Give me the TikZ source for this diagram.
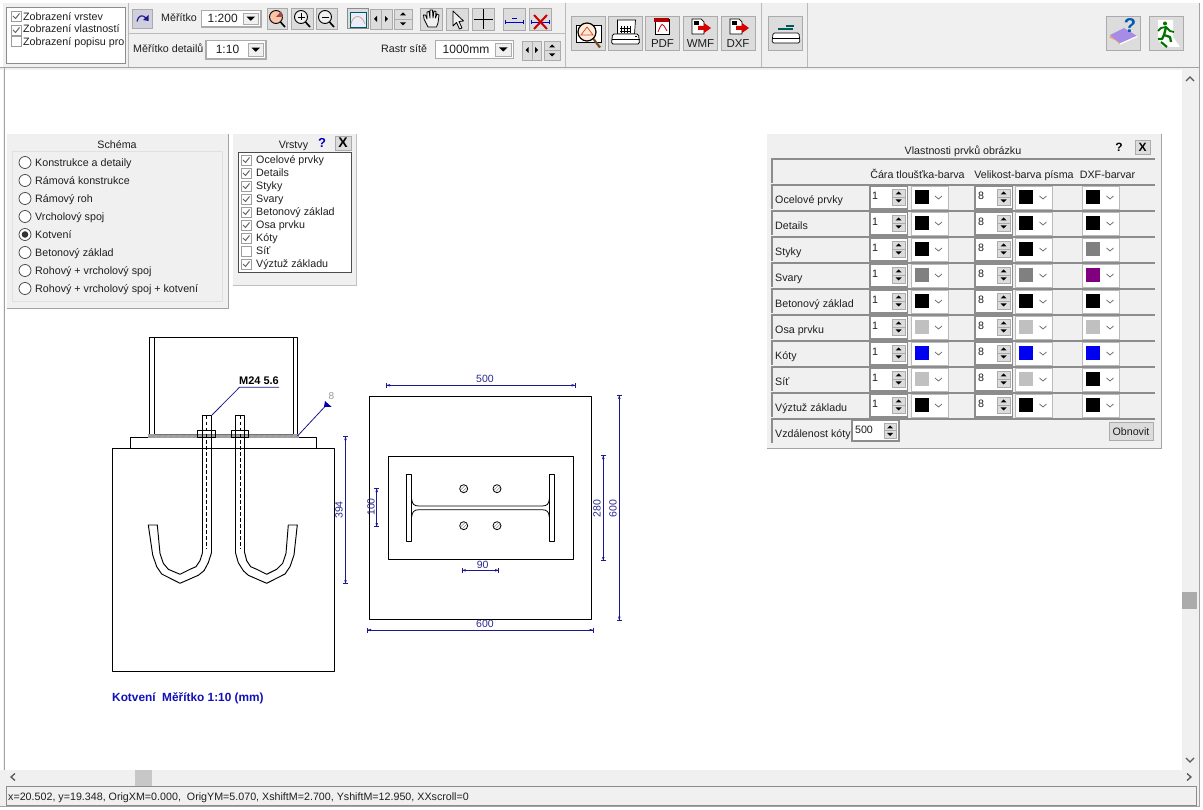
\documentclass[tikz,border=0pt]{standalone}
\usepackage{fontspec}
\setmainfont{Liberation Sans}
\usetikzlibrary{calc}
\definecolor{winbg}{HTML}{F0F0F0}
\definecolor{btnbg}{HTML}{DCDCDC}
\definecolor{btnln}{HTML}{ABABAB}
\definecolor{frameln}{HTML}{8C8C8C}
\definecolor{txt}{HTML}{1E1E1E}
\definecolor{navy}{HTML}{1A1A8C}
\definecolor{dimtxt}{HTML}{2A2A90}
\definecolor{capblue}{HTML}{1010B8}
\definecolor{silver}{HTML}{C0C0C0}
\definecolor{midgray}{HTML}{808080}
\definecolor{purp}{HTML}{800080}
\definecolor{pureblue}{HTML}{0000F0}
\tikzset{
  lbl/.style={anchor=base west,yshift=-4pt,inner sep=0pt,text=txt,font=\fontsize{10.7}{12}\selectfont},
  ctr/.style={anchor=base,yshift=-4pt,inner sep=0pt,text=txt,font=\fontsize{10.7}{12}\selectfont},
  dimt/.style={anchor=center,inner sep=0pt,text=dimtxt,font=\fontsize{10.5}{12}\selectfont},
  dim/.style={draw=navy,line width=0.9pt},
  obj/.style={draw=black,line width=0.95pt,line join=round},
  btn/.style={draw=btnln,fill=btnbg,line width=0.8pt},
  panel/.style={draw=none,fill=winbg},
}
\newcommand{\Lbl}[3]{\node[lbl] at (#1,#2) {#3};}
\newcommand{\Btn}[4]{\draw[btn] (#1,#2) rectangle (#3,#4);}
\newcommand{\ChkBox}[2]{\draw[draw=frameln!85,fill=white,line width=0.7pt] (#1,#2) rectangle ++(10,10);}
\newcommand{\Chk}[2]{\ChkBox{#1}{#2}\draw[draw=txt!70,line width=1pt] (#1+2,#2+5) -- (#1+4.5,#2+7.5) -- (#1+8.5,#2+2.5);}
\newcommand{\Radio}[3]{\draw[draw=black!75,fill=white,line width=0.7pt] (#1,#2) circle (6);\Lbl{#1+10}{#2+0.5}{#3}}
\newcommand{\Combo}[5]{\draw[draw=btnln,fill=white,line width=1.2pt] (#1,#2) rectangle (#3,#4);
  \draw[draw=btnln,fill=winbg,line width=0.8pt] (#3-18,#2+2.5) rectangle (#3-2.5,#4-2.5);
  \fill[black] (#3-14.5,{(#2+#4)/2-2}) -- (#3-6,{(#2+#4)/2-2}) -- (#3-10.25,{(#2+#4)/2+2}) -- cycle;
  \node[ctr,font=\fontsize{12}{12}\selectfont] at ({(#1+#3-17)/2},{(#2+#4)/2}) {#5};}
\newcommand{\TriUp}[2]{\fill[black] (#1-3,#2+1.5) -- (#1+3,#2+1.5) -- (#1,#2-1.5) -- cycle;}
\newcommand{\TriDn}[2]{\fill[black] (#1-3,#2-1.5) -- (#1+3,#2-1.5) -- (#1,#2+1.5) -- cycle;}
\newcommand{\TriL}[2]{\fill[black] (#1+1.5,#2-3) -- (#1+1.5,#2+3) -- (#1-1.5,#2) -- cycle;}
\newcommand{\TriR}[2]{\fill[black] (#1-1.5,#2-3) -- (#1-1.5,#2+3) -- (#1+1.5,#2) -- cycle;}
% spinner in property table
\newcommand{\Spin}[2]{\draw[draw=frameln,fill=white,line width=1.1pt] (#1,#2+1) rectangle (#1+37.5,#2+24);
  \draw[btn] (#1+22,#2+4) rectangle (#1+35,#2+12);\draw[btn] (#1+22,#2+12) rectangle (#1+35,#2+20);
  \TriUp{#1+28.5}{#2+8}\TriDn{#1+28.5}{#2+16}}
\newcommand{\Swatch}[3]{\draw[draw=frameln!60,fill=white,line width=0.9pt] (#1,#2+1) rectangle (#1+37,#2+24);
  \fill[#3] (#1+3.5,#2+5) rectangle (#1+17.5,#2+19.5);
  \draw[draw=black!60,line width=0.7pt] (#1+24,#2+11) -- (#1+27.5,#2+14) -- (#1+31,#2+11);}
\newcommand{\HDim}[3]{\draw[dim] (#1,#3) -- (#2,#3);\draw[dim] (#1+0.5,#3-2.5) -- (#1+0.5,#3+2.5);\draw[dim] (#2-0.5,#3-2.5) -- (#2-0.5,#3+2.5);
  \fill[navy] (#1,#3) -- (#1+4,#3-1.2) -- (#1+4,#3+1.2) -- cycle;\fill[navy] (#2,#3) -- (#2-4,#3-1.2) -- (#2-4,#3+1.2) -- cycle;}
\newcommand{\VDim}[3]{\draw[dim] (#3,#1) -- (#3,#2);\draw[dim] (#3-2.5,#1+0.5) -- (#3+2.5,#1+0.5);\draw[dim] (#3-2.5,#2-0.5) -- (#3+2.5,#2-0.5);
  \fill[navy] (#3,#1) -- (#3-1.2,#1+4) -- (#3+1.2,#1+4) -- cycle;\fill[navy] (#3,#2) -- (#3-1.2,#2-4) -- (#3+1.2,#2-4) -- cycle;}
\newcommand{\Printer}[2]{% x,y of button top-left
  \draw[draw=black,fill=white,line width=0.7pt] (#1+9,#2+4) -- (#1+27,#2+4) -- (#1+26,#2+18) -- (#1+9,#2+18) -- cycle;
  \draw[draw=black,fill=white,line width=0.8pt,rounded corners=1.5pt] (#1+4,#2+18) -- (#1+30,#2+18) -- (#1+31,#2+28) -- (#1+3,#2+28) -- cycle;
  \draw[draw=black,line width=0.7pt] (#1+3,#2+23) -- (#1+31,#2+23);
  \fill[black] (#1+26,#2+20) rectangle ++(2,1);}
\begin{document}
\begin{tikzpicture}[x=1pt,y=-1pt]
\useasboundingbox (0,0) rectangle (1203,810);
\clip (0,0) rectangle (1203,810);
% window
\fill[winbg] (0,0) rectangle (1203,810);
\fill[white] (5,70) rectangle (1182,770);
\fill[white] (0,70) rectangle (3,770);
\fill[white] (1200,0) rectangle (1203,810);
\fill[white] (0,806) rectangle (1203,810);
\fill[white] (0,0) rectangle (1203,3);
\fill[white] (0,3) rectangle (3,68);
% borders
\draw[draw=frameln!80,line width=1pt] (0,67.5) -- (1199,67.5);
\draw[draw=frameln!80,line width=1pt] (4,68) -- (4,770);
\draw[draw=frameln!80,line width=1pt] (1199,3) -- (1199,806) -- (0,806);
\draw[draw=frameln!60,line width=1pt] (128.5,3) -- (128.5,67);
\draw[draw=frameln!60,line width=1pt] (128.5,34) -- (565.5,34);
\draw[draw=frameln!60,line width=1pt] (565.5,3) -- (565.5,67);
\draw[draw=frameln!60,line width=1pt] (761.5,3) -- (761.5,67);
\draw[draw=frameln!60,line width=1pt] (807.5,3) -- (807.5,67);
% view options
\draw[draw=frameln,fill=white,line width=1pt] (6.5,7.5) rectangle (125,64);
\Chk{11}{11}\Lbl{23}{16.5}{Zobrazení vrstev}
\Chk{11}{25}\Lbl{23}{29}{Zobrazení vlastností}
\ChkBox{11}{36}\Lbl{23}{42}{Zobrazení popisu pro}
% toolbar row 1
\draw[draw=btnln,fill=blue!6!btnbg,line width=0.8pt] (132,9) rectangle (152,28);
\draw[draw=navy,line width=1.2pt] (137,21.5) .. controls (138,15) and (143,14.5) .. (146,18);
\fill[navy] (148.5,21) -- (143,20) -- (148.5,15) -- cycle;
\Lbl{161}{18}{Měřítko}
\Combo{201.5}{10.5}{261}{27}{1:200}
\Btn{267}{8}{287}{29}
\draw[draw=black,fill=red!35!orange!35,line width=0.9pt] (276,17) circle (6.5);
\fill[red!45!black!70] (276,17) -- (281,11.5) -- (283,17) -- cycle;
\draw[draw=black,line width=1.6pt] (280.5,22) -- (285,27);
\Btn{291}{8}{313}{29}
\draw[draw=black,fill=winbg,line width=0.9pt] (301,17) circle (6.5);
\draw[black,line width=0.8pt] (297.5,17) -- (304.5,17) (301,13.5) -- (301,20.5);
\draw[draw=black,line width=1.6pt] (305.5,22) -- (310,27);
\Btn{316}{8}{337}{29}
\draw[draw=black,fill=winbg,line width=0.9pt] (325,17) circle (6.5);
\draw[black,line width=0.8pt] (321.5,17) -- (328.5,17);
\draw[draw=black,line width=1.6pt] (329.5,22) -- (334,27);
\draw[draw=frameln,fill=btnbg,line width=1pt] (347,9) rectangle (368,29);
\draw[draw=teal!70!black,fill=blue!8,line width=0.8pt] (350,12) rectangle (366,27);
\draw[draw=brown!70,line width=0.8pt] (351,24) .. controls (353,14) and (362,14) .. (365,24);
\Btn{370}{9}{381}{29}\Btn{381}{9}{392}{29}\TriL{375.5}{19}\TriR{386.5}{19}
\Btn{394}{9}{412}{19}\Btn{394}{19}{412}{29}\TriUp{403}{14}\TriDn{403}{24}
\Btn{420}{8}{442}{30}
\draw[draw=black,fill=winbg,line width=0.8pt,line join=round] (428,27) -- (424,19) -- (423.5,15) -- (425.5,15) -- (427,19) -- (427,12) -- (429,11.5) -- (430,18) -- (430,10) -- (432.5,10) -- (433,18) -- (434,11) -- (436,11.5) -- (435.5,18) -- (437,14) -- (439,15) -- (438,23) -- (436.5,27) -- cycle;
\Btn{446}{8}{468}{30}
\draw[draw=black,fill=winbg,line width=0.8pt,line join=round] (453,11) -- (453,26) -- (456.5,22.5) -- (459.5,29) -- (462,28) -- (459,21.5) -- (463.5,21) -- cycle;
\Btn{472}{8}{494}{30}
\draw[black,line width=1.2pt] (473.5,19.5) -- (493,19.5) (483.5,9.5) -- (483.5,29);
\Btn{503}{8}{525}{30}
\draw[draw=blue!80!black,line width=0.8pt] (505,22) -- (524,22) (505.5,20) -- (505.5,24) (523.5,20) -- (523.5,24) (512,18) -- (517,18);
\Btn{529}{8}{551}{30}
\draw[draw=blue!80!black,line width=0.8pt] (531,22) -- (550,22) (531.5,20) -- (531.5,24) (549.5,20) -- (549.5,24);
\draw[draw=red!80!black,line width=2pt] (534,15) -- (547,29) (547,15) -- (534,29);
% toolbar row 2
\Lbl{133}{49}{Měřítko detailů}
\Combo{206}{40.5}{266}{59}{1:10}
\Lbl{381}{49}{Rastr sítě}
\Combo{435.5}{40.5}{513.5}{58.5}{1000mm}
\Btn{522}{41}{532}{60}\Btn{532}{41}{541.5}{60}\TriL{527}{50}\TriR{536.5}{50}
\Btn{544.5}{41}{560}{50.5}\Btn{544.5}{50.5}{560}{60}\TriUp{552}{46}\TriDn{552}{55}
% output buttons
\Btn{571.5}{16}{605}{50}
\draw[draw=black,fill=white,line width=0.8pt] (576,25) rectangle (601,42);
\draw[draw=black,fill=orange!15,line width=1.2pt] (587,32) circle (9);
\draw[draw=red!50!brown,line width=0.7pt] (581,35) -- (587,27) -- (593,35) -- cycle;
\draw[draw=brown!60!black,line width=2.2pt] (593.5,39) -- (600,47.5);
\Btn{608.5}{16}{642}{50}\Printer{608.5}{16}
\foreach \i in {0,1,2,3} {\draw[black,line width=0.4pt] (621+3*\i,26) -- (621+3*\i,33);}
\draw[black,line width=0.4pt] (620,28) -- (631,28) (620,31) -- (631,31);
\Btn{645.5}{16}{679}{50}
\draw[draw=black,fill=white,line width=0.7pt] (655,19) rectangle (669,34);
\fill[red!70!black] (654,18) rectangle (669,22);
\draw[draw=red!80!black,line width=0.8pt] (658,32) .. controls (662,22) and (662,22) .. (667,31);
\node[ctr,font=\fontsize{11.5}{12}\selectfont] at (662.5,43.5) {PDF};
\Btn{683.5}{16}{717}{50}
\draw[draw=black,fill=white,line width=0.7pt] (692,19) -- (701,19) -- (704,22) -- (704,34) -- (692,34) -- cycle;
\fill[black] (694,21) rectangle ++(5,4);
\fill[red!85!black] (698,26) -- (704,26) -- (704,23) -- (711,28) -- (704,33) -- (704,30) -- (698,30) -- cycle;
\node[ctr,font=\fontsize{11.5}{12}\selectfont] at (700.5,43.5) {WMF};
\Btn{721}{16}{755}{50}
\draw[draw=black,fill=white,line width=0.7pt] (730,19) -- (739,19) -- (742,22) -- (742,34) -- (730,34) -- cycle;
\fill[black] (732,21) rectangle ++(5,4);
\fill[red!85!black] (736,26) -- (742,26) -- (742,23) -- (749,28) -- (742,33) -- (742,30) -- (736,30) -- cycle;
\node[ctr,font=\fontsize{11.5}{12}\selectfont] at (738,43.5) {DXF};
\Btn{768.5}{16}{802}{50}
\draw[teal!70!black,line width=1.1pt] (778,29) -- (793,29);
\draw[teal!70!black,line width=1.2pt] (786,26) -- (794,26);
\draw[draw=black,fill=white,line width=0.7pt,rounded corners=1.5pt] (773,33) -- (799,33) -- (800,43) -- (772,43) -- cycle;
\draw[draw=black,line width=0.7pt] (772.5,38) -- (799.5,38);
% help + exit
\Btn{1106}{16}{1140}{50}
\fill[violet!45!blue!45] (1110,35) -- (1124,28) -- (1137,36) -- (1120,44) -- cycle;
\fill[orange!50!brown!70] (1110,35) -- (1120,44) -- (1120,42.5) -- (1109.5,37.5) -- cycle;
\draw[draw=white,line width=1.2pt] (1120,44) -- (1137,36.5);
\node[inner sep=0pt,text=blue!50!cyan!70!black,font=\bfseries\fontsize{20}{20}\selectfont] at (1130,26) {?};
\Btn{1149}{16}{1183}{50}
\fill[white] (1158,20) -- (1173,20) -- (1173,37) -- (1180,47) -- (1163,47) -- (1158,40) -- cycle;
\fill[green!45!black] (1165,23.5) circle (2);
\draw[draw=green!45!black,line width=2.3pt,line join=round] (1166,27) -- (1164,35) -- (1170,37) -- (1171,42);
\draw[draw=green!45!black,line width=2.3pt,line join=round] (1164,35) -- (1162,39) -- (1158,39);
\draw[draw=green!45!black,line width=1.8pt,line join=round] (1158,31) -- (1161,28) -- (1166,27) -- (1170,31) -- (1174,32);
\draw[draw=green!45!black,line width=2.2pt] (1161,42) -- (1167,47);
% scrollbars
\fill[winbg] (1182,70) rectangle (1198,770);
\fill[winbg] (5,770) rectangle (1198,786);
\fill[black!33] (1182,592) rectangle (1197,609);
\fill[black!22] (135,770) rectangle (152,786);
\draw[draw=black!65,line width=1.3pt] (1186,81) -- (1190,77) -- (1194,81);
\draw[draw=black!65,line width=1.3pt] (1186,758) -- (1190,762) -- (1194,758);
\draw[draw=black!65,line width=1.3pt] (15,773.5) -- (11,777) -- (15,780.5);
\draw[draw=black!65,line width=1.3pt] (1187,773.5) -- (1191,777) -- (1187,780.5);
% status bar
\draw[draw=frameln,fill=winbg,line width=0.8pt] (6,786) rectangle (1196,805);
\node[lbl] at (8,796) {x=20.502, y=19.348, OrigXM=0.000,\ \ OrigYM=5.070, XshiftM=2.700, YshiftM=12.950, XXscroll=0};
% ===== Schema panel
\fill[winbg] (7,134) rectangle (228,309);
\draw[draw=frameln!80,line width=1pt] (7,309) -- (228,309) -- (228,134);
\draw[draw=black!12,line width=1pt] (12,152) rectangle (222,302);
\node[ctr] at (117,145) {Schéma};
\Radio{25}{162.5}{Konstrukce a detaily}
\Radio{25}{180.5}{Rámová konstrukce}
\Radio{25}{198.5}{Rámový roh}
\Radio{25}{216.5}{Vrcholový spoj}
\Radio{25}{234.5}{Kotvení}\fill[black!80] (25,234.5) circle (3.3);
\Radio{25}{252.5}{Betonový základ}
\Radio{25}{270.5}{Rohový + vrcholový spoj}
\Radio{25}{288.5}{Rohový + vrcholový spoj + kotvení}
% ===== Vrstvy panel
\fill[winbg] (233,134) rectangle (356,285);
\draw[draw=black!25,line width=0.8pt] (233,285) -- (356,285) -- (356,134);
\node[ctr] at (293.5,145) {Vrstvy};
\node[inner sep=0pt,text=blue!70!black,font=\bfseries\fontsize{13}{13}\selectfont] at (322,143) {?};
\Btn{335.5}{136}{351}{150}
\node[inner sep=0pt,text=black,font=\bfseries\fontsize{14}{14}\selectfont] at (343,143) {X};
\draw[draw=black!70,fill=white,line width=0.8pt] (238,152) rectangle (351,272);
\foreach \yy/\tt/\on in {160/Ocelové prvky/1,173/Details/1,186/Styky/1,199/Svary/1,212/Betonový základ/1,225/Osa prvku/1,238/Kóty/1,251/Síť/0,264/Výztuž základu/1}{
  \ifnum\on=1 \Chk{241}{\yy-5}\else\ChkBox{241}{\yy-5}\fi
  \Lbl{256}{\yy-0.5}{\tt}
}
% ===== Properties panel
\fill[winbg] (767,134) rectangle (1161,448);
\draw[draw=frameln!80,line width=1pt] (767,448) -- (1161,448) -- (1161,134);
\node[ctr] at (963,151) {Vlastnosti prvků obrázku};
\node[inner sep=0pt,text=black,font=\bfseries\fontsize{12}{12}\selectfont] at (1119,147) {?};
\Btn{1135}{140.5}{1150}{154.5}
\node[inner sep=0pt,text=black,font=\bfseries\fontsize{12}{12}\selectfont] at (1142.5,147.5) {X};
\draw[draw=frameln,line width=1.1pt] (772,183) -- (772,159) -- (1155,159);
\node[ctr] at (917.5,175) {Čára tloušťka-barva};
\node[ctr] at (1024,175) {Velikost-barva písma};
\node[ctr] at (1107.5,175) {DXF-barvar};
\foreach \yy/\nm/\ca/\cb/\cc in {185/Ocelové prvky/black/black/black,211/Details/black/black/black,237/Styky/black/black/midgray,263/Svary/midgray/midgray/purp,289/Betonový základ/black/black/black,315/Osa prvku/silver/silver/silver,341/Kóty/pureblue/pureblue/pureblue,367/Síť/silver/silver/black,393/Výztuž základu/black/black/black}{
  \draw[draw=frameln,line width=1.1pt] (772,\yy+24) -- (772,\yy) -- (1155,\yy);
  \Lbl{775}{\yy+14.5}{\nm}
  \Spin{870}{\yy}\node[ctr] at (875,\yy+11) {1};
  \Swatch{911}{\yy}{\ca}
  \Spin{975}{\yy}\node[ctr] at (981,\yy+11) {8};
  \Swatch{1015.5}{\yy}{\cb}
  \Swatch{1082.5}{\yy}{\cc}
}
\draw[draw=frameln,line width=1.1pt] (772,443) -- (772,419) -- (1155,419);
\Lbl{775}{433.7}{Vzdálenost kóty}
\draw[draw=frameln,fill=white,line width=1.1pt] (852,420) rectangle (899,441);
\node[ctr] at (864,429) {500};
\draw[btn] (884,423) rectangle (896,430.5);\draw[btn] (884,430.5) rectangle (896,438);
\TriUp{890}{427}\TriDn{890}{434.5}
\Btn{1109}{422}{1153}{440}
\node[ctr] at (1131,431.7) {Obnovit};
% ===== Left drawing
\draw[obj] (112,448.5) rectangle (334,671);
\draw[obj] (130.5,448.5) -- (130.5,437) -- (316,437) -- (316,448.5);
\draw[obj] (149.5,437) -- (149.5,337.5) -- (297,337.5) -- (297,437);
\draw[obj] (154.5,337.5) -- (154.5,437);
\draw[obj] (293,337.5) -- (293,437);
% weld
\fill[black!38] (148,434.5) rectangle (299,438);
\foreach \i in {0,...,23}{\draw[white!70!black,line width=0.6pt] (155+6*\i,437.5) -- (158+6*\i,434.5);}
\draw[black!55,line width=0.7pt] (154.5,434) -- (293,434);
% bolts
\draw[obj] (202.5,552.7) -- (202.5,415.5) -- (211.5,415.5) -- (211.5,552.7);
\draw[obj] (235.5,552.7) -- (235.5,415.5) -- (244.7,415.5) -- (244.7,552.7);
\draw[black,dashed,dash pattern=on 3.5pt off 2.5pt,line width=0.8pt] (206.8,416) -- (206.8,549);
\draw[black,dashed,dash pattern=on 3.5pt off 2.5pt,line width=0.8pt] (240.3,416) -- (240.3,549);
\draw[obj] (197.3,430.5) rectangle (215.5,437.5);
\draw[obj] (231.5,430.5) rectangle (248.5,437.5);
% hooks
\draw[obj] (211.5,552.7) -- (208.3,562.7) -- (204,570.7) -- (198.3,575.3) -- (180,583.3) -- (161.7,574) -- (156.7,566.7) -- (152.7,555) -- (148.3,525) -- (157.3,525) -- (160,553.3) -- (163.3,563.3) -- (168.3,569.3) -- (180,574.3) -- (190,569.3) -- (196,566.7) -- (200,560.7) -- (202.5,552.7);
\draw[obj] (235.5,552.7) -- (238.3,562.7) -- (243.3,570.7) -- (248.3,575.3) -- (266.7,583.3) -- (285,574) -- (290,566.7) -- (294,555) -- (297.3,525) -- (288.3,525) -- (286,553.3) -- (282.7,563.3) -- (276.7,569.3) -- (266.7,574.3) -- (256.7,569.3) -- (250.7,566.7) -- (246.7,560.7) -- (244.7,552.7);
% M24 label
\node[anchor=center,inner sep=0pt,text=black,font=\bfseries\fontsize{11}{12}\selectfont] (m24) at (259,380.5) {M24 5.6};
\coordinate (m24a) at (239.5,387.3);
\coordinate (m24b) at (279,387.3);
\coordinate (m24c) at (212,415);
\draw[draw=navy,line width=0.8pt] (m24b) -- (m24a) -- (m24c);
\coordinate (wa) at (297.5,436);
\coordinate (wb) at (325,406.5);
\draw[draw=navy,line width=0.8pt] (wa) -- (wb);
\fill[blue!70!black] (325,401) -- (331.5,406.8) -- (324,406.8) -- cycle;
\node[anchor=center,inner sep=0pt,text=black!40,font=\fontsize{10}{12}\selectfont] at (331.5,396) {8};
\VDim{436}{584}{345.5}
\node[dimt,rotate=90] at (339,510) {394};
\node[anchor=base west,inner sep=0pt,text=capblue,font=\bfseries\fontsize{11.85}{12}\selectfont] at (112,701) {Kotvení\ \ Měřítko 1:10 (mm)};
% ===== Right drawing
\draw[obj] (369.5,396.3) rectangle (591.5,619);
\draw[obj] (388.3,456.3) rectangle (573.3,559.7);
\draw[obj] (406.3,474.3) rectangle (411.7,541.7);
\draw[obj] (549.3,474.3) rectangle (554.7,541.7);
\draw[obj,line width=0.8pt] (411.7,499) .. controls (412,504) and (414,506) .. (419,506) -- (542,506) .. controls (547,506) and (549,504) .. (549.3,499);
\draw[obj,line width=0.8pt] (411.7,517) .. controls (412,512) and (414,509.7) .. (419,509.7) -- (542,509.7) .. controls (547,509.7) and (549,512) .. (549.3,517);
\foreach \cx/\cy in {463.7/488.7,497/488.7,463.7/525.7,497/525.7}{
  \draw[draw=black,fill=white,line width=0.8pt] (\cx,\cy) circle (4);
  \draw[black!55,line width=0.35pt] (\cx-1.5,\cy+3.2) -- (\cx+3.2,\cy-1.5) (\cx-3.2,\cy+1.5) -- (\cx+1.5,\cy-3.2);
}
\HDim{386}{575.7}{385.3}
\node[dimt] at (485,379) {500};
\VDim{455}{561}{603.3}
\node[dimt,rotate=90] at (597,508.5) {280};
\VDim{395}{620.7}{619.3}
\node[dimt,rotate=90] at (613,508.5) {600};
\HDim{367}{593.5}{630}
\node[dimt] at (485,624) {600};
\VDim{488}{527}{376.7}
\node[dimt,rotate=90] at (371,507) {100};
\HDim{461.7}{499}{570.3}
\node[dimt] at (482.7,565) {90};
\end{tikzpicture}
\end{document}
